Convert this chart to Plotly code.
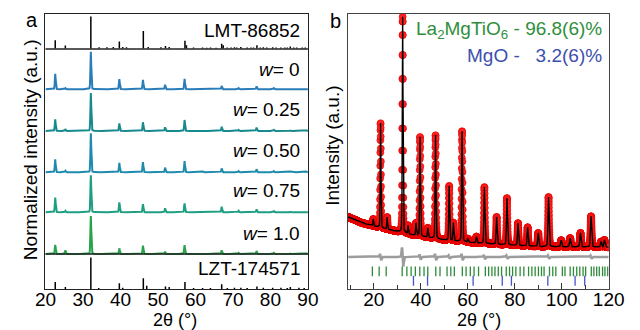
import numpy as np
import plotly.graph_objects as go

# ---------------- Panel a: normalized XRD patterns ----------------
tt_a_peaks = [22.6, 25.3, 32.1, 39.7, 46.0, 51.9, 57.1, 62.0, 67.0, 71.5, 76.3, 80.9, 85.3, 89.5]
w0_int   = [0.41, 0.03, 1.0, 0.27, 0.25, 0.12, 0.28, 0.02, 0.09, 0.03, 0.08, 0.03, 0.02, 0.02]
w025_int = [0.31, 0.05, 1.0, 0.20, 0.23, 0.10, 0.29, 0.02, 0.11, 0.03, 0.09, 0.03, 0.02, 0.02]
w050_int = [0.33, 0.04, 1.0, 0.24, 0.26, 0.12, 0.29, 0.02, 0.10, 0.03, 0.08, 0.03, 0.02, 0.02]
w075_int = [0.40, 0.04, 1.0, 0.27, 0.22, 0.11, 0.24, 0.02, 0.15, 0.04, 0.08, 0.03, 0.02, 0.02]
w10_int  = [0.24, 0.10, 1.0, 0.15, 0.22, 0.06, 0.23, 0.02, 0.10, 0.03, 0.08, 0.03, 0.02, 0.02]
w_labels = ["0", "0.25", "0.50", "0.75", "1.0"]

lmt_pos = [22.6, 25.3, 32.1, 34.3, 36.4, 38.1, 39.7, 40.6, 41.6, 46.1, 47.4, 50.8, 52.0, 53.0,
           57.2, 57.6, 59.5, 61.9, 63.0, 64.0, 65.5, 67.0, 67.4, 68.5, 69.5, 70.4, 71.0, 72.1,
           73.8, 74.8, 75.5, 76.4, 77.3, 78.1, 79.0, 80.6, 81.5, 82.8, 83.8, 84.5, 85.3, 86.2,
           87.0, 88.5, 89.3]
lmt_int = [0.26, 0.09, 1.0, 0.04, 0.04, 0.05, 0.22, 0.05, 0.04, 0.55, 0.05, 0.04, 0.08, 0.05,
           0.24, 0.10, 0.03, 0.03, 0.02, 0.03, 0.02, 0.15, 0.10, 0.03, 0.03, 0.04, 0.03, 0.05,
           0.03, 0.03, 0.03, 0.10, 0.03, 0.04, 0.03, 0.04, 0.03, 0.03, 0.03, 0.03, 0.06, 0.03,
           0.03, 0.03, 0.03]
lzt_pos = [22.6, 25.3, 32.1, 34.2, 39.7, 40.6, 46.1, 47.0, 52.0, 53.0, 57.2, 59.5, 61.9, 64.0,
           67.0, 68.5, 70.4, 72.1, 73.8, 76.4, 78.1, 80.6, 82.8, 84.5, 85.3, 87.6, 89.0]
lzt_int = [0.22, 0.06, 1.0, 0.03, 0.18, 0.04, 0.34, 0.10, 0.08, 0.06, 0.22, 0.03, 0.03, 0.03,
           0.15, 0.03, 0.04, 0.04, 0.03, 0.08, 0.04, 0.04, 0.04, 0.03, 0.06, 0.04, 0.03]

# ---------------- Panel b: Rietveld refinement ----------------
bg_tt  = [9.1, 15.0, 23.3, 36.9, 50.4, 64.2, 77.8, 91.3, 120.0]
bg_int = [0.262, 0.240, 0.222, 0.196, 0.178, 0.167, 0.160, 0.154, 0.152]
tt_b_peaks = [19.8, 22.9, 25.7, 32.3, 34.6, 38.0, 39.7, 43.0, 46.3, 52.1, 53.9, 57.6, 60.1,
              63.7, 67.1, 72.3, 76.7, 81.4, 85.5, 90.0, 94.4, 99.8, 103.6, 108.0, 112.5, 116.8, 118.2]
b_int = [0.025, 0.381, 0.044, 0.785, 0.030, 0.045, 0.361, 0.034, 0.376, 0.198, 0.065, 0.402, 0.012,
         0.023, 0.205, 0.099, 0.170, 0.081, 0.068, 0.049, 0.181, 0.024, 0.032, 0.051, 0.112, 0.020, 0.026]
diff_level = 0.116
diff_tt  = [22.9, 32.3, 39.7, 46.3, 52.1, 57.6, 67.1, 76.7, 94.4, 112.5]
diff_amp = [0.012, 0.035, 0.010, 0.012, 0.006, 0.012, 0.008, 0.006, 0.006, 0.006]
lmto_hkl_tt = [19.4, 22.3, 25.3, 32.1, 34.1, 35.9, 37.7, 39.6, 41.4, 43.0, 46.4, 48.2, 51.2, 52.8,
               54.3, 57.7, 59.3, 61.1, 62.7, 64.6, 67.5, 68.9, 70.3, 71.6, 73.0, 74.4, 76.4, 77.8,
               79.1, 80.5, 82.3, 83.9, 85.9, 87.3, 88.7, 90.1, 91.4, 92.5, 94.8, 96.2, 97.5, 100.3,
               101.4, 103.6, 105.0, 106.4, 107.7, 109.1, 110.2, 112.6, 113.7, 114.9, 116.0, 117.4,
               118.4, 119.6]
mgo_hkl_tt = [36.9, 42.9, 62.3, 74.7, 78.6, 94.1, 105.7, 109.8]
phase_text = ["La<sub>2</sub>MgTiO<sub>6</sub> - 96.8(6)%", "MgO -\u00a0\u00a0\u00a03.2(6)%"]


def profile(x, pos, amp, fwhm0, fwhm_slope):
    y = np.zeros_like(x)
    for p, a in zip(pos, amp):
        f = fwhm0 + fwhm_slope * p
        s = f / 2.3548
        g = np.exp(-0.5 * ((x - p) / s) ** 2)
        l = 1.0 / (1.0 + ((x - p) / (f / 2)) ** 2)
        y += a * (0.75 * g + 0.25 * l)
    return y


def sticks(pos, amp, base, scale):
    xs, ys = [], []
    for p, a in zip(pos, amp):
        xs += [p, p, None]
        ys += [base, base + a * scale, None]
    return xs, ys


FONT = "Liberation Sans, Arial, sans-serif"
fig = go.Figure()

# panel a layout constants (y in pixel-like units, 0 = bottom of frame)
xa = np.arange(20.0, 90.0001, 0.02)
strips = [
    dict(vals=w0_int, base=199.7, scale=37.5, color="#2a7db8"),
    dict(vals=w025_int, base=158.0, scale=38.0, color="#178a8e"),
    dict(vals=w050_int, base=116.7, scale=39.0, color="#1e8aae"),
    dict(vals=w075_int, base=76.7, scale=37.0, color="#1f9f82"),
    dict(vals=w10_int, base=35.0, scale=38.0, color="#27a34a"),
]
for st in strips:
    ya = st["base"] + st["scale"] * profile(xa, tt_a_peaks, st["vals"], 0.26, 0.0)
    fig.add_trace(go.Scatter(x=xa, y=ya, mode="lines", line=dict(color=st["color"], width=2),
                             xaxis="x", yaxis="y", hoverinfo="skip", showlegend=False))

sx, sy = sticks(lmt_pos, lmt_int, 240.5, 32.0)
fig.add_trace(go.Scatter(x=sx, y=sy, mode="lines", line=dict(color="black", width=1.5),
                         xaxis="x", yaxis="y", hoverinfo="skip", showlegend=False))
sx, sy = sticks(lzt_pos, lzt_int, 0.0, 31.5)
fig.add_trace(go.Scatter(x=sx, y=sy, mode="lines", line=dict(color="black", width=1.5),
                         xaxis="x", yaxis="y", hoverinfo="skip", showlegend=False))

# panel b traces
xb = np.arange(9.1, 120.0001, 0.02)
xo = np.arange(9.11, 120.0001, 0.03)
calc = np.interp(xb, bg_tt, bg_int) + profile(xb, tt_b_peaks, b_int, 0.26, 0.0028)
obs = np.interp(xo, bg_tt, bg_int) + profile(xo, tt_b_peaks, b_int, 0.26, 0.0028)
diff = np.full_like(xb, diff_level)
for p, a in zip(diff_tt, diff_amp):
    s = 0.25
    diff += a * (-(xb - p) / s) * np.exp(0.5 - 0.5 * ((xb - p) / s) ** 2)

fig.add_trace(go.Scatter(x=xb, y=diff, mode="lines", line=dict(color="#9c9c9c", width=2.5),
                         xaxis="x2", yaxis="y2", hoverinfo="skip", showlegend=False))
fig.add_trace(go.Scatter(x=lmto_hkl_tt, y=[0.064] * len(lmto_hkl_tt), mode="markers",
                         marker=dict(symbol="line-ns", size=7, line=dict(color="#2e8b3a", width=1.3)),
                         xaxis="x2", yaxis="y2", hoverinfo="skip", showlegend=False))
fig.add_trace(go.Scatter(x=mgo_hkl_tt, y=[0.030] * len(mgo_hkl_tt), mode="markers",
                         marker=dict(symbol="line-ns", size=7, line=dict(color="#4455c8", width=1.3)),
                         xaxis="x2", yaxis="y2", hoverinfo="skip", showlegend=False))
fig.add_trace(go.Scatter(x=xo, y=obs, mode="markers",
                         marker=dict(size=7, color="#ff2222", line=dict(color="#e00000", width=0.6)),
                         xaxis="x2", yaxis="y2", hoverinfo="skip", showlegend=False, cliponaxis=True))
fig.add_trace(go.Scatter(x=xb, y=calc, mode="lines", line=dict(color="black", width=1.4),
                         xaxis="x2", yaxis="y2", hoverinfo="skip", showlegend=False))

W, H = 640, 330
def px(x):
    return x / W
def py(y):
    return 1 - y / H

frame = dict(showline=True, mirror=True, linecolor="#222", linewidth=1.3, showgrid=False,
             zeroline=False)
fig.update_layout(
    width=W, height=H, margin=dict(l=0, r=0, t=0, b=0),
    paper_bgcolor="white", plot_bgcolor="white",
    font=dict(family=FONT, size=19, color="black"),
    xaxis=dict(domain=[px(36), px(310)], range=[20, 90], tickvals=list(range(20, 91, 10)),
               ticks="", tickfont=dict(size=19), ticklabelstandoff=-7, anchor="y", **frame),
    yaxis=dict(domain=[py(289), py(14)], range=[0, 275], showticklabels=False, ticks="",
               anchor="x", **frame),
    xaxis2=dict(domain=[px(352), px(624)], range=[9.1, 120], tickvals=list(range(20, 121, 20)),
                ticks="inside", ticklen=6, tickwidth=1.3, tickcolor="#333",
                minor=dict(dtick=10, tick0=0, ticks="inside", ticklen=4, tickwidth=1.3, tickcolor="#333"),
                tickfont=dict(size=19), ticklabelstandoff=-7, anchor="y2",
                showline=True, mirror=True, linecolor="#444", linewidth=1.3, showgrid=False, zeroline=False),
    yaxis2=dict(domain=[py(289), py(14)], range=[0, 1], showticklabels=False, ticks="",
                anchor="x2", showline=True, mirror=True, linecolor="#444", linewidth=1.3,
                showgrid=False, zeroline=False),
)

# strip dividers in panel a
for yv in [240.0, 35.0]:
    fig.add_shape(type="line", xref="paper", yref="y", x0=px(36), x1=px(310), y0=yv, y1=yv,
                  line=dict(color="#222", width=1.3))

ann = []
def add_text(text, x, y, size=19, color="black", xanchor="center", angle=0):
    ann.append(dict(text=text, x=px(x), y=py(y), xref="paper", yref="paper", showarrow=False,
                    xanchor=xanchor, yanchor="middle", textangle=angle,
                    font=dict(family=FONT, size=size, color=color)))

add_text("a", 22, 20, size=20)
add_text("b", 339, 21, size=20)
add_text("LMT-86852", 304, 30, xanchor="right")
label_y = [69, 109, 151, 191, 233]
for lab, yy in zip(w_labels, label_y):
    add_text("<i>w</i>= " + lab, 304, yy, xanchor="right")
add_text("LZT-174571", 304, 268, xanchor="right")
add_text("Normalized intensity (a.u.)", 20, 150, angle=-90)
add_text("2θ (°)", 171, 320, size=18)
add_text("Intensity (a.u.)", 335, 146, angle=-90)
add_text("2θ (°)", 489, 320, size=18)
add_text(phase_text[0], 619, 30, color="#2f8f3c", xanchor="right")
add_text(phase_text[1], 619, 56, color="#3d4fae", xanchor="right")
fig.update_layout(annotations=ann)

fig.write_html("out.html")
